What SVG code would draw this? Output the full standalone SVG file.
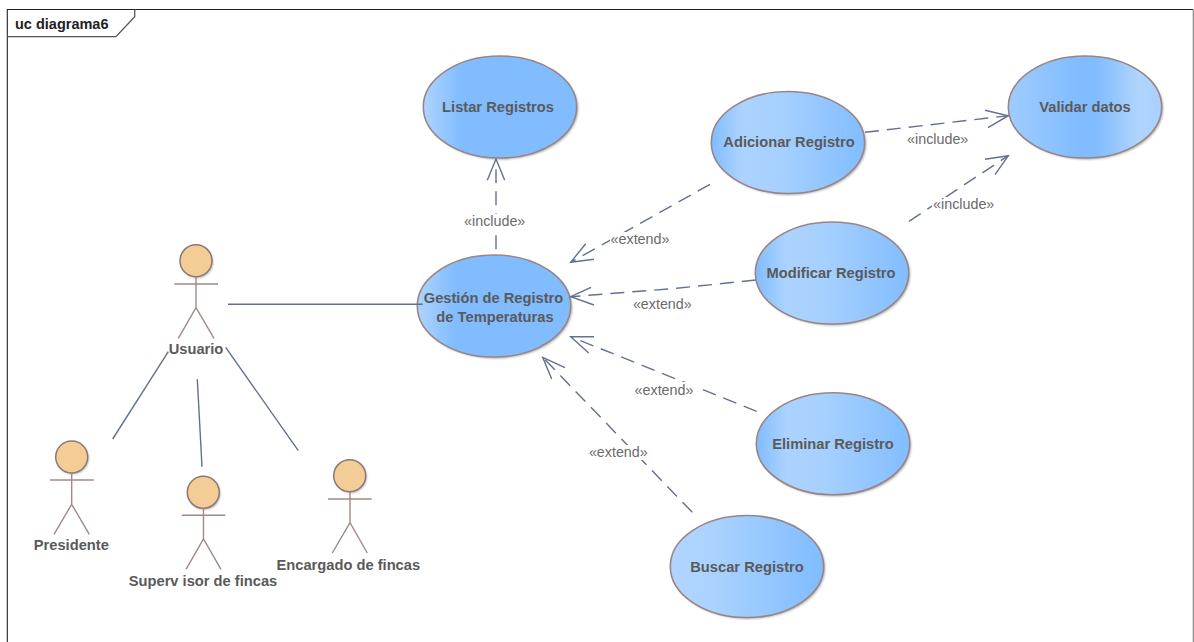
<svg xmlns="http://www.w3.org/2000/svg" width="1194" height="642" viewBox="0 0 1194 642">
<style>
text{font-family:"Liberation Sans",Arial,sans-serif;font-size:14.7px;fill:#5a5a5a;text-anchor:middle}
.b{font-weight:bold}
.l{fill:#6a6a6a;font-size:14.3px}
.uc{stroke:#9a8585;stroke-width:1.6}
.sh{fill:#8a8a8a;filter:url(#blur);opacity:.7}
.head{fill:#f3cc96;stroke:#8a7a76;stroke-width:1.5}
.act{fill:none;stroke:#a08a88;stroke-width:1.4}
.c{fill:none;stroke:#64708f;stroke-width:1.4}
.d{stroke-dasharray:14 8}
.w{fill:#fff}
</style>
<defs>
<filter id="blur" x="-10%" y="-10%" width="120%" height="120%"><feGaussianBlur stdDeviation="1"/></filter>
<linearGradient id="g1"><stop offset="0" stop-color="#aed4ff"/><stop offset=".25" stop-color="#80bcff"/><stop offset="1" stop-color="#80bcff"/></linearGradient>
<linearGradient id="g2"><stop offset="0" stop-color="#80bcff"/><stop offset=".2" stop-color="#acd3ff"/><stop offset=".45" stop-color="#a6d0ff"/><stop offset="1" stop-color="#82bdff"/></linearGradient>
<linearGradient id="g3"><stop offset="0" stop-color="#a0ccff"/><stop offset=".47" stop-color="#80bcff"/><stop offset=".57" stop-color="#80bcff"/><stop offset=".85" stop-color="#b0d5ff"/><stop offset="1" stop-color="#a8d0ff"/></linearGradient>
<linearGradient id="g4"><stop offset="0" stop-color="#b0d5ff"/><stop offset=".25" stop-color="#acd3ff"/><stop offset="1" stop-color="#80bcff"/></linearGradient>
</defs>
<rect width="1194" height="642" fill="#fff"/>
<g id="frame">
<path d="M7.300 642V9.500H1193" fill="none" stroke="#222" stroke-width="1.100"/>
<path d="M1193.300 9.500V642" fill="none" stroke="#888" stroke-width="1.200"/>
<path d="M7 36.700H116L134.700 16.700V9.500" fill="none" stroke="#555" stroke-width="1.300"/>
<text class="b" x="15" y="28.500" style="text-anchor:start;fill:#222;font-size:14.500px">uc diagrama6</text>
</g>
<g id="listar"><ellipse class="sh" cx="501.500" cy="108.500" rx="76.700" ry="51"/><ellipse class="uc" cx="500" cy="107" rx="76.700" ry="51" fill="url(#g1)"/><text class="b" x="498" y="112">Listar Registros</text></g>
<g id="gestion"><ellipse class="sh" cx="495.500" cy="307.500" rx="76.700" ry="51"/><ellipse class="uc" cx="494" cy="306" rx="76.700" ry="51" fill="url(#g1)"/><text class="b" x="493.500" y="303">Gestión de Registro</text><text class="b" x="495" y="322">de Temperaturas</text></g>
<g id="adicionar"><ellipse class="sh" cx="789.500" cy="144" rx="76.700" ry="51"/><ellipse class="uc" cx="788" cy="142.500" rx="76.700" ry="51" fill="url(#g2)"/><text class="b" x="789" y="147">Adicionar Registro</text></g>
<g id="validar"><ellipse class="sh" cx="1086.500" cy="108.500" rx="76.700" ry="51"/><ellipse class="uc" cx="1085" cy="107" rx="76.700" ry="51" fill="url(#g3)"/><text class="b" x="1085" y="112">Validar datos</text></g>
<g id="modificar"><ellipse class="sh" cx="833.500" cy="274.500" rx="76.700" ry="51"/><ellipse class="uc" cx="832" cy="273" rx="76.700" ry="51" fill="url(#g2)"/><text class="b" x="831" y="278">Modificar Registro</text></g>
<g id="eliminar"><ellipse class="sh" cx="834.500" cy="445.200" rx="76.700" ry="51"/><ellipse class="uc" cx="833" cy="443.700" rx="76.700" ry="51" fill="url(#g2)"/><text class="b" x="833" y="449">Eliminar Registro</text></g>
<g id="buscar"><ellipse class="sh" cx="748.500" cy="568" rx="76.700" ry="51"/><ellipse class="uc" cx="747" cy="566.500" rx="76.700" ry="51" fill="url(#g4)"/><text class="b" x="747" y="572">Buscar Registro</text></g>
<g id="usuario"><circle class="sh" cx="197" cy="262" r="16"/><circle class="head" cx="196" cy="260.700" r="16"/><path class="act" d="M196 277V307.700M174.300 284H218M178.300 338.300L196 307.700L214 338.300"/><text class="b" x="196" y="354">Usuario</text></g>
<g id="presidente"><circle class="sh" cx="72.700" cy="458.300" r="16"/><circle class="head" cx="71.700" cy="457" r="16"/><path class="act" d="M71.700 473V504.300M50 480H93.700M54 534.300L71.700 504.300L89.300 534.300"/><text class="b" x="71.300" y="550">Presidente</text></g>
<g id="supervisor"><circle class="sh" cx="204.300" cy="493.600" r="16"/><circle class="head" cx="203.300" cy="492.300" r="16"/><path class="act" d="M203.500 508V539M181.700 515.300H225.300M186 569.300L203.500 539L221 569.300"/><text class="b" x="203" y="586">Superv isor de fincas</text></g>
<g id="encargado"><circle class="sh" cx="350.700" cy="477" r="16"/><circle class="head" cx="349.700" cy="475.700" r="16"/><path class="act" d="M350 492V522.700M328 499H371.700M332.300 553L350 522.700L367.300 553"/><text class="b" x="348.300" y="570">Encargado de fincas</text></g>
<g id="connectors">
<path class="c" d="M228 304.300H422.700"/>
<path class="c" d="M168.300 351.700L112.700 439"/>
<path class="c" d="M197.300 379.300L202 466.700"/>
<path class="c" d="M225.700 347.300L298.300 450.700"/>
<path class="c d" d="M496 249.300V159"/><path class="c" d="M487.300 180.300L496 159L504.700 180.300"/>
<path class="c d" d="M710 184.300L570.700 262.300"/><path class="c" d="M585.700 243.700L570.700 262.300L594 259.300"/>
<path class="c d" d="M755.700 280L676.700 288.300L570.700 296.700"/><path class="c" d="M591 287.300L570.700 296.700L594 305"/>
<path class="c d" d="M756.700 411.300L570.700 336.700"/><path class="c" d="M594 336.700L570.700 336.700L588.700 353"/>
<path class="c d" d="M692.300 512.300L542.700 357.300"/><path class="c" d="M565 367.700L542.700 357.300L551.700 379"/>
<path class="c d" d="M865 132.300L1008.300 115.700"/><path class="c" d="M985 110.300L1008.300 115.700L988 127.700"/>
<path class="c d" d="M909 221.300L1008.300 155.700"/><path class="c" d="M985 159.300L1008.300 155.700L995 174.700"/>
<rect class="w" x="463" y="214" width="63" height="15"/><text class="l" x="494.700" y="226">«include»</text>
<rect class="w" x="610" y="232" width="60" height="15"/><text class="l" x="640" y="244">«extend»</text>
<rect class="w" x="632" y="297" width="60" height="15"/><text class="l" x="662.300" y="309">«extend»</text>
<rect class="w" x="634" y="382" width="63" height="16"/><text class="l" x="664" y="395">«extend»</text>
<rect class="w" x="588" y="445" width="60" height="15"/><text class="l" x="618.300" y="457">«extend»</text>
<rect class="w" x="906" y="132" width="63" height="15"/><text class="l" x="937.700" y="144">«include»</text>
<rect class="w" x="932" y="197" width="63" height="15"/><text class="l" x="963.700" y="209">«include»</text>
</g>
</svg>
